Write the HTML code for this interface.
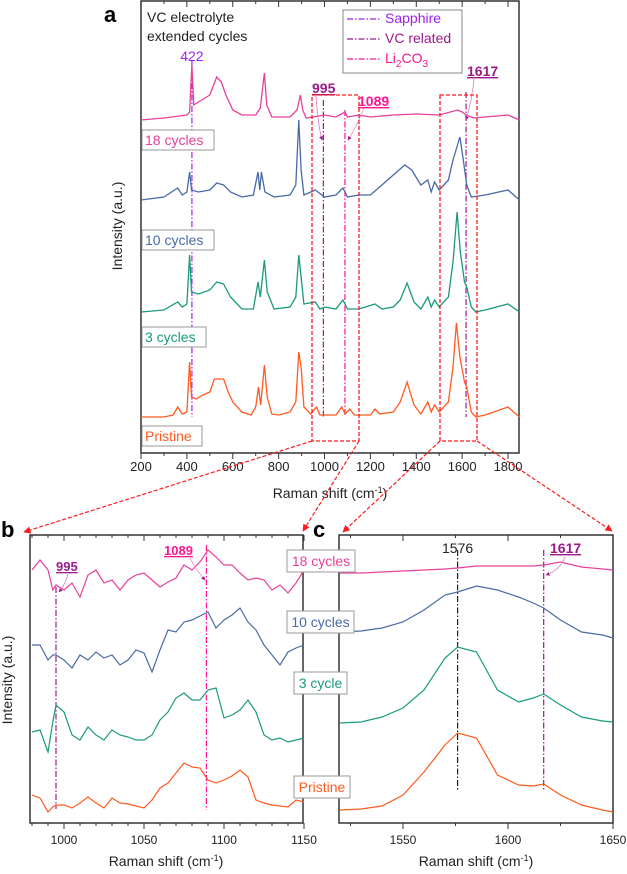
<!DOCTYPE html>
<html><head><meta charset="utf-8">
<style>
body{margin:0;background:#fff;}
svg{display:block;font-family:"Liberation Sans",Arial,sans-serif;}
</style></head>
<body>
<svg id="fig" width="627" height="874" viewBox="0 0 627 874" xmlns="http://www.w3.org/2000/svg">
<defs>
<marker id="arr" viewBox="0 0 10 10" refX="9" refY="5" markerWidth="6" markerHeight="6" orient="auto-start-reverse"><path d="M0,0 L10,5 L0,10 z" fill="#ff1a1a"/></marker>
<marker id="arrp" viewBox="0 0 10 10" refX="9" refY="5" markerWidth="5" markerHeight="5" orient="auto"><path d="M0,0 L10,5 L0,10 z" fill="#9b1a8a"/></marker>
</defs>
<g id="panelA"></g>
<g id="panelB"></g>
<g id="panelC"></g>
<g id="overlay"></g>
</svg>
<script>
// ---------- Panel a data ----------
const aPristineX=[200,300,340,360,380,400,412,420,440,470,500,520,540,560,580,600,640,680,700,712,722,738,750,770,800,850,875,888,898,910,940,965,980,1000,1050,1075,1090,1110,1130,1200,1220,1240,1300,1330,1360,1390,1420,1450,1465,1480,1500,1540,1560,1575,1590,1610,1620,1640,1660,1700,1800,1850];
const aPristineY=[0,0,2,10,3,5,55,20,18,22,25,38,38,38,25,15,5,2,10,30,12,52,20,3,2,5,15,65,50,10,3,10,2,2,2,10,3,8,2,2,8,3,5,15,35,12,3,15,5,12,5,15,50,94,60,35,30,5,0,2,10,0];
const aThreeX=[200,300,360,380,400,412,420,450,500,530,560,590,640,690,710,720,738,750,780,850,875,888,898,910,960,980,1000,1050,1080,1100,1150,1220,1250,1300,1330,1360,1390,1420,1450,1465,1480,1500,1540,1560,1578,1592,1610,1620,1640,1660,1700,1800,1850];
const aThreeY=[0,2,10,5,8,57,20,18,22,30,28,15,3,3,30,15,52,20,3,5,15,57,35,8,10,3,5,3,12,3,3,8,3,5,12,29,10,3,15,5,12,5,15,50,100,60,30,25,5,0,2,8,0];
const aTenX=[200,300,360,380,400,412,420,450,500,530,560,590,640,690,710,718,725,740,780,850,875,888,898,910,960,1000,1050,1080,1100,1150,1200,1250,1300,1350,1380,1420,1450,1465,1480,1500,1540,1560,1590,1605,1620,1640,1700,1800,1850];
const aTenY=[0,3,12,5,8,28,10,8,10,17,15,8,3,5,28,10,28,8,3,5,15,80,30,5,10,3,5,12,3,5,5,15,25,35,30,15,20,8,18,10,20,40,63,40,15,3,5,10,0];
const aEighteenX=[200,300,400,412,422,430,450,480,500,530,550,570,600,640,700,720,738,748,770,850,880,895,905,920,950,1000,1050,1089,1100,1150,1200,1300,1400,1500,1580,1600,1617,1650,1700,1800,1850];
const aEighteenY=[0,2,5,8,55,15,18,22,25,43,38,25,10,5,5,12,47,15,3,3,10,25,10,2,3,5,3,8,3,5,3,5,6,5,10,8,5,2,3,5,0];
const aTickLabels=[200,400,600,800,1000,1200,1400,1600,1800];
// ---------- Panel b data ----------
const bX=[980,985,990,993,995,1000,1005,1010,1015,1020,1025,1030,1035,1040,1045,1050,1055,1060,1065,1070,1075,1080,1085,1090,1095,1100,1105,1110,1115,1120,1125,1130,1135,1140,1145,1150];
const bEighteen=[30,40,30,10,15,10,17,3,25,30,17,20,10,20,25,27,20,13,18,22,35,30,38,50,43,35,35,27,20,22,20,10,15,7,17,30];
const bTen=[30,30,15,20,20,15,7,20,15,23,17,20,10,15,25,22,3,25,45,43,53,55,59,63,47,55,60,67,53,45,30,20,10,23,27,30];
const bThree=[20,22,0,30,47,40,17,12,25,17,12,22,17,15,12,12,17,32,40,54,59,52,52,62,64,34,37,42,52,40,17,12,14,10,12,14];
const bPristine=[20,17,3,8,10,10,7,12,18,12,7,17,12,11,9,7,15,27,32,42,52,48,47,35,32,35,39,45,38,15,12,10,9,8,15,13];
const bTickLabels=[1000,1050,1100,1150];
// ---------- Panel c data ----------
const cX=[1520,1530,1540,1550,1560,1570,1576,1585,1595,1605,1612,1617,1625,1635,1645,1650];
const cEighteen=[27,27,28,29,30,31,32,34,34,34,34,35,38,33,31,30];
const cTen=[48,49,52,58,70,85,88,94,90,83,77,72,60,48,45,42];
const cThree=[17,18,23,32,50,82,93,88,50,38,42,46,35,23,19,18];
const cPristine=[20,21,24,35,58,85,97,92,55,45,44,46,35,25,20,18];
const cTickLabels=[1550,1600,1650];

const NS="http://www.w3.org/2000/svg";
function mk(parent,tag,attrs,text){const e=document.createElementNS(NS,tag);for(const k in attrs)e.setAttribute(k,attrs[k]);if(text!==undefined)e.textContent=text;parent.appendChild(e);return e;}
function pathD(xs,ys,fx,fy){return xs.map((v,i)=>(i?'L':'M')+fx(v).toFixed(1)+','+fy(ys[i]).toFixed(1)).join(' ');}

const PINK="#e8409a",BLUE="#4a6aa5",GREEN="#1a9a7c",ORANGE="#ff5a1f",SAPH="#a020f0",VC="#9b1a8a",LI="#ff1493";

// ===== Panel A =====
const A=document.getElementById('panelA');
const ax=v=>141+(v-200)*0.2294;
mk(A,'rect',{x:141,y:1,width:378,height:452,fill:'none',stroke:'#333','stroke-width':1.5});
for(let t=200;t<=1800;t+=100){
 const tk=mk(A,'line',{x1:ax(t),x2:ax(t),y1:453,y2:t%200?456:459,stroke:'#333'});
 
 mk(A,'line',{x1:ax(t),x2:ax(t),y1:1,y2:t%200?4:7,stroke:'#333'});
}
aTickLabels.forEach(t=>{const l=mk(A,'text',{x:ax(t),y:471,'font-size':13,'text-anchor':'middle',fill:'#222'},t);
 });
const at=mk(A,'text',{x:330,y:498,'font-size':14,'text-anchor':'middle',fill:'#222'});at.innerHTML='Raman shift (cm<tspan dy="-5" font-size="9">-1</tspan><tspan dy="5">)</tspan>';

const ay=mk(A,'text',{x:0,y:0,'font-size':14,'text-anchor':'middle',fill:'#222',transform:'translate(122,226) rotate(-90)'},'Intensity (a.u.)');

const alab=mk(A,'text',{x:104,y:22,'font-size':22,'font-weight':'bold',fill:'#000'},'a');

mk(A,'text',{x:147,y:22,'font-size':14,fill:'#222'},'VC electrolyte');
mk(A,'text',{x:147,y:41,'font-size':14,fill:'#222'},'extended cycles');
// vertical guide lines
[[422,60,417,SAPH],[995,100,417,VC],[1089,110,417,LI],[1617,92,417,VC]].forEach(g=>{
 const l=mk(A,'line',{x1:ax(g[0]),x2:ax(g[0]),y1:g[1],y2:g[2],stroke:g[3],'stroke-width':1.2,'stroke-dasharray':'6,2,1.5,2'});
 });
const aSeries=[[aEighteenX,aEighteenY,120,PINK,'18 cycles'],[aTenX,aTenY,200,BLUE,'10 cycles'],[aThreeX,aThreeY,312,GREEN,'3 cycles'],[aPristineX,aPristineY,417,ORANGE,'Pristine']];
aSeries.forEach(s=>{const p=mk(A,'path',{d:pathD(s[0],s[1],ax,v=>s[2]-v),fill:'none',stroke:s[3],'stroke-width':1.3});
 });
[[141,130,72,'18 cycles',PINK],[141,230,72,'10 cycles',BLUE],[141,327,64,'3 cycles',GREEN],[141,426,60,'Pristine',ORANGE]].forEach(b=>{
 mk(A,'rect',{x:b[0]+1,y:b[1],width:b[2],height:20,fill:'#fff',stroke:'#999'});
 const t=mk(A,'text',{x:b[0]+4,y:b[1]+15,'font-size':14,fill:b[4]},b[3]);
 });
mk(A,'text',{x:ax(422),y:61,'font-size':14,'text-anchor':'middle',fill:SAPH},'422');
// legend
const lg=mk(A,'g',{});
mk(lg,'rect',{x:343,y:10,width:119,height:63,fill:'#fff',stroke:'#888'});
[[SAPH,'Sapphire',23],[VC,'VC related',43],[LI,'Li2CO3',63]].forEach(e=>{
 mk(lg,'line',{x1:347,x2:381,y1:e[2]-4,y2:e[2]-4,stroke:e[0],'stroke-width':1.2,'stroke-dasharray':'6,2,1.5,2'});
 const t=mk(lg,'text',{x:385,y:e[2],'font-size':14,fill:e[0]});
 if(e[1]==='Li2CO3')t.innerHTML='Li<tspan dy="4" font-size="10">2</tspan><tspan dy="-4">CO</tspan><tspan dy="4" font-size="10">3</tspan>';else t.textContent=e[1];
 });
// peak labels a
[[312,93,'995',VC],[358,106,'1089',LI],[467,76,'1617',VC]].forEach(p=>{
 const t=mk(A,'text',{x:p[0],y:p[1],'font-size':14,'font-weight':'bold',fill:p[3],'text-decoration':'underline'},p[2]);
 });
mk(A,'path',{d:'M316,96 Q318,125 322,140',fill:'none',stroke:'#d07fc0','stroke-width':0.8,'marker-end':'url(#arrp)'});
mk(A,'path',{d:'M364,108 Q356,128 348,140',fill:'none',stroke:'#f08cc0','stroke-width':0.8,'marker-end':'url(#arrp)'});
mk(A,'path',{d:'M474,79 Q472,100 466,120',fill:'none',stroke:'#d07fc0','stroke-width':0.8,'marker-end':'url(#arrp)'});

// ===== Panel B =====
const B=document.getElementById('panelB');
const bx=v=>64+(v-1000)*1.6;
mk(B,'rect',{x:30,y:535,width:273,height:288,fill:'none',stroke:'#333','stroke-width':1.5});
for(let t=980;t<=1150;t+=10){if(bx(t)<30)continue;const big=t%50===0;
 mk(B,'line',{x1:bx(t),x2:bx(t),y1:823,y2:big?829:826,stroke:'#333'});mk(B,'line',{x1:bx(t),x2:bx(t),y1:535,y2:big?541:538,stroke:'#333'});}
bTickLabels.forEach(t=>{const l=mk(B,'text',{x:bx(t),y:844,'font-size':12,'text-anchor':'middle',fill:'#222'},t);
 });
const bt=mk(B,'text',{x:166,y:866,'font-size':14,'text-anchor':'middle',fill:'#222'});bt.innerHTML='Raman shift (cm<tspan dy="-5" font-size="9">-1</tspan><tspan dy="5">)</tspan>';

const by=mk(B,'text',{x:0,y:0,'font-size':14,'text-anchor':'middle',fill:'#222',transform:'translate(12,680) rotate(-90)'},'Intensity (a.u.)');

const blab=mk(B,'text',{x:1,y:537,'font-size':22,'font-weight':'bold',fill:'#000'},'b');

[[995,587,809,VC],[1089,545,810,LI]].forEach(g=>{const l=mk(B,'line',{x1:bx(g[0]),x2:bx(g[0]),y1:g[1],y2:g[2],stroke:g[3],'stroke-width':1.2,'stroke-dasharray':'6,2,1.5,2'});
 });
[[bEighteen,600,PINK],[bTen,675,BLUE],[bThree,752,GREEN],[bPristine,815,ORANGE]].forEach(s=>{
 const p=mk(B,'path',{d:pathD(bX,s[0],bx,v=>s[1]-v),fill:'none',stroke:s[2],'stroke-width':1.2});
 });
mk(B,'text',{x:56,y:571,'font-size':13,'font-weight':'bold',fill:VC,'text-decoration':'underline'},'995');
mk(B,'text',{x:164,y:555,'font-size':13,'font-weight':'bold',fill:LI,'text-decoration':'underline'},'1089');
mk(B,'path',{d:'M68,574 Q65,585 59,592',fill:'none',stroke:'#d07fc0','stroke-width':0.8,'marker-end':'url(#arrp)'});
mk(B,'path',{d:'M190,558 Q196,570 205,580',fill:'none',stroke:'#f08cc0','stroke-width':0.8,'marker-end':'url(#arrp)'});

// ===== Panel C =====
const C=document.getElementById('panelC');
const cx=v=>403+(v-1550)*2.1;
mk(C,'rect',{x:339,y:535,width:274,height:288,fill:'none',stroke:'#333','stroke-width':1.5});
for(let t=1525;t<=1650;t+=25){const big=t%50===0;
 mk(C,'line',{x1:cx(t),x2:cx(t),y1:823,y2:big?829:826,stroke:'#333'});mk(C,'line',{x1:cx(t),x2:cx(t),y1:535,y2:big?541:538,stroke:'#333'});}
cTickLabels.forEach(t=>{const l=mk(C,'text',{x:cx(t),y:844,'font-size':12,'text-anchor':'middle',fill:'#222'},t);
 });
const ct=mk(C,'text',{x:476,y:866,'font-size':14,'text-anchor':'middle',fill:'#222'});ct.innerHTML='Raman shift (cm<tspan dy="-5" font-size="9">-1</tspan><tspan dy="5">)</tspan>';

const clab=mk(C,'text',{x:313,y:537,'font-size':22,'font-weight':'bold',fill:'#000'},'c');

[[1576,550,790,'#222'],[1617,550,790,VC]].forEach(g=>{const l=mk(C,'line',{x1:cx(g[0]),x2:cx(g[0]),y1:g[1],y2:g[2],stroke:g[3],'stroke-width':1.2,'stroke-dasharray':'6,2,1.5,2'});
 });
[[cEighteen,600,PINK],[cTen,680,BLUE],[cThree,740,GREEN],[cPristine,830,ORANGE]].forEach(s=>{
 const p=mk(C,'path',{d:pathD(cX,s[0],cx,v=>s[1]-v),fill:'none',stroke:s[2],'stroke-width':1.2});
 });
mk(C,'text',{x:cx(1576),y:553,'font-size':14,'text-anchor':'middle',fill:'#222'},'1576');
mk(C,'text',{x:550,y:553,'font-size':14,'font-weight':'bold',fill:VC,'text-decoration':'underline'},'1617');
mk(C,'path',{d:'M565,557 Q560,570 546,575',fill:'none',stroke:'#d07fc0','stroke-width':0.8,'marker-end':'url(#arrp)'});

// ===== Overlay: zoom boxes, connectors, series labels b/c =====
const O=document.getElementById('overlay');
[[312,359],[440,477]].forEach(r=>{const z=mk(O,'rect',{x:r[0],y:95,width:r[1]-r[0],height:346,fill:'none',stroke:'#ff1a1a','stroke-width':1.3,'stroke-dasharray':'4,2'});
 });
[[312,441,24,532],[359,441,303,531],[440,441,343,532],[477,441,612,531]].forEach(c=>{
 mk(O,'line',{x1:c[0],y1:c[1],x2:c[2],y2:c[3],stroke:'#ff1a1a','stroke-width':1.2,'stroke-dasharray':'4,2','marker-end':'url(#arr)'});});
[[287,550,68,'18 cycles',PINK],[287,611,67,'10 cycles',BLUE],[294,672,53,'3 cycle',GREEN],[294,776,56,'Pristine',ORANGE]].forEach(b=>{
 mk(O,'rect',{x:b[0],y:b[1],width:b[2],height:22,fill:'#fff',stroke:'#999'});
 const t=mk(O,'text',{x:b[0]+b[2]/2,y:b[1]+16,'font-size':14,'text-anchor':'middle',fill:b[4]},b[3]);
 });
</script>
</body></html>
